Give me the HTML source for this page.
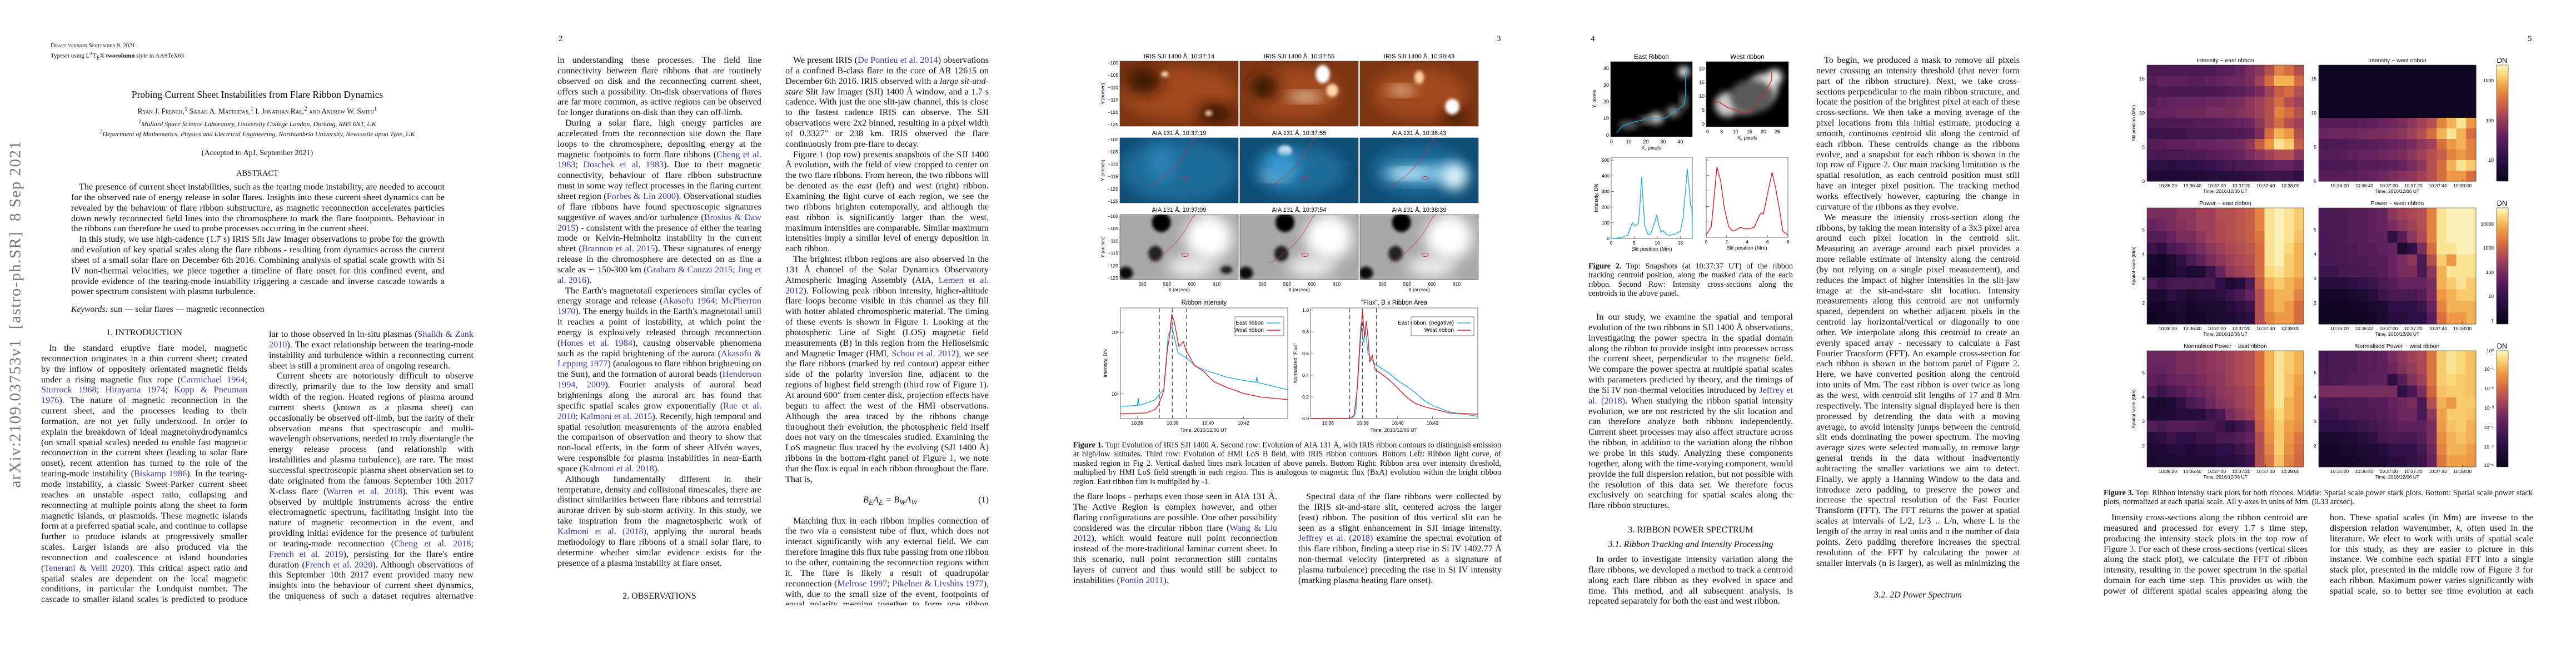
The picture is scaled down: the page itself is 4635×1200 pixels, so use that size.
<!DOCTYPE html>
<html lang="en"><head><meta charset="utf-8">
<style>
html,body{margin:0;padding:0;background:#fff;}
body{width:4635px;height:1200px;position:relative;overflow:hidden;font-family:"Liberation Serif",serif;color:#111;}
.t{position:absolute;font-size:16.2px;line-height:18.85px;text-align:justify;hyphens:auto;-webkit-hyphens:auto;overflow:hidden;}
.t p{margin:0;text-indent:14px;}
.t p.ni{text-indent:0;}
.c{color:#3a3a9a;}
.h{position:absolute;font-size:16px;text-align:center;}
.hdr{position:absolute;font-size:15px;}
.cap{position:absolute;font-size:14.2px;line-height:16.4px;text-align:justify;hyphens:auto;overflow:hidden;}
svg text{font-family:"Liberation Sans",sans-serif;}
</style></head><body>

<div style="position:absolute;left:28px;top:565px;transform:translate(-50%,-50%) rotate(-90deg);font-size:29px;color:#777;white-space:nowrap;letter-spacing:1.5px;">arXiv:2109.03753v1&nbsp;&nbsp;[astro-ph.SR]&nbsp;&nbsp;8 Sep 2021</div>

<!-- PAGE 1 -->
<div style="position:absolute;left:91px;top:76px;font-size:11px;font-variant:small-caps;">Draft version September 9, 2021</div>
<div style="position:absolute;left:91px;top:92px;font-size:11px;">Typeset using L<sup style="font-size:8px">A</sup>T<sub style="font-size:10px">E</sub>X <b>twocolumn</b> style in AASTeX63</div>
<div class="h" style="left:163px;width:600px;top:160px;font-size:17.5px;">Probing Current Sheet Instabilities from Flare Ribbon Dynamics</div>
<div class="h" style="left:63px;width:800px;top:190px;font-size:13.5px;font-variant:small-caps;">Ryan J. French,<sup>1</sup> Sarah A. Matthews,<sup>1</sup> I. Jonathan Rae,<sup>2</sup> and Andrew W. Smith<sup>1</sup></div>
<div class="h" style="left:63px;width:800px;top:214px;font-size:12px;font-style:italic;"><sup>1</sup>Mullard Space Science Laboratory, University College London, Dorking, RH5 6NT, UK</div>
<div class="h" style="left:63px;width:800px;top:232px;font-size:12px;font-style:italic;"><sup>2</sup>Department of Mathematics, Physics and Electrical Engineering, Northumbria University, Newcastle upon Tyne, UK</div>
<div class="h" style="left:263px;width:400px;top:268px;font-size:14px;">(Accepted to ApJ, September 2021)</div>
<div class="h" style="left:363px;width:200px;top:304px;font-size:14.5px;">ABSTRACT</div>
<div class="t" style="left:128px;top:327px;width:672px;height:208px;">
<p>The presence of current sheet instabilities, such as the tearing mode instability, are needed to account for the observed rate of energy release in solar flares. Insights into these current sheet dynamics can be revealed by the behaviour of flare ribbon substructure, as magnetic reconnection accelerates particles down newly reconnected field lines into the chromosphere to mark the flare footpoints. Behaviour in the ribbons can therefore be used to probe processes occurring in the current sheet.</p>
<p>In this study, we use high-cadence (1.7 s) IRIS Slit Jaw Imager observations to probe for the growth and evolution of key spatial scales along the flare ribbons - resulting from dynamics across the current sheet of a small solar flare on December 6th 2016. Combining analysis of spatial scale growth with Si IV non-thermal velocities, we piece together a timeline of flare onset for this confined event, and provide evidence of the tearing-mode instability triggering a cascade and inverse cascade towards a power spectrum consistent with plasma turbulence.</p>
</div>
<div style="position:absolute;left:128px;top:548px;font-size:15.5px;"><i>Keywords:</i> sun — solar flares — magnetic reconnection</div>
<div class="h" style="left:74px;width:371px;top:590px;">1. INTRODUCTION</div>
<div class="t" style="left:74px;top:617px;width:371px;height:472px;">
<p>In the standard eruptive flare model, magnetic reconnection originates in a thin current sheet; created by the inflow of oppositely orientated magnetic fields under a rising magnetic flux rope (<span class="c">Carmichael 1964</span>; <span class="c">Sturrock 1968</span>; <span class="c">Hirayama 1974</span>; <span class="c">Kopp &amp; Pneuman 1976</span>). The nature of magnetic reconnection in the current sheet, and the processes leading to their formation, are not yet fully understood. In order to explain the breakdown of ideal magnetohydrodynamics (on small spatial scales) needed to enable fast magnetic reconnection in the current sheet (leading to solar flare onset), recent attention has turned to the role of the tearing-mode instability (<span class="c">Biskamp 1986</span>). In the tearing-mode instability, a classic Sweet-Parker current sheet reaches an unstable aspect ratio, collapsing and reconnecting at multiple points along the sheet to form magnetic islands, or plasmoids. These magnetic islands form at a preferred spatial scale, and continue to collapse further to produce islands at progressively smaller scales. Larger islands are also produced via the reconnection and coalescence at island boundaries (<span class="c">Tenerani &amp; Velli 2020</span>). This critical aspect ratio and spatial scales are dependent on the local magnetic conditions, in particular the Lundquist number. The cascade to smaller island scales is predicted to produce plasma turbulence, with a power-law simi-</p>
</div>
<div class="t" style="left:484px;top:592px;width:368px;height:491px;">
<p class="ni">lar to those observed in in-situ plasmas (<span class="c">Shaikh &amp; Zank 2010</span>). The exact relationship between the tearing-mode instability and turbulence within a reconnecting current sheet is still a prominent area of ongoing research.</p>
<p>Current sheets are notoriously difficult to observe directly, primarily due to the low density and small width of the region. Heated regions of plasma around current sheets (known as a plasma sheet) can occasionally be observed off-limb, but the rarity of their observation means that spectroscopic and multi-wavelength observations, needed to truly disentangle the energy release process (and relationship with instabilities and plasma turbulence), are rare. The most successful spectroscopic plasma sheet observation set to date originated from the famous September 10th 2017 X-class flare (<span class="c">Warren et al. 2018</span>). This event was observed by multiple instruments across the entire electromagnetic spectrum, facilitating insight into the nature of magnetic reconnection in the event, and providing initial evidence for the presence of turbulent or tearing-mode reconnection (<span class="c">Cheng et al. 2018</span>; <span class="c">French et al. 2019</span>), persisting for the flare's entire duration (<span class="c">French et al. 2020</span>). Although observations of this September 10th 2017 event provided many new insights into the behaviour of current sheet dynamics, the uniqueness of such a dataset requires alternative methods to be employed in order to make further progress</p>
</div>

<!-- PAGE 2 -->
<div class="hdr" style="left:1005px;top:62px;">2</div>
<div class="t" style="left:1003px;top:99px;width:367px;height:924px;">
<p class="ni">in understanding these processes. The field line connectivity between flare ribbons that are routinely observed on disk and the reconnecting current sheet, offers such a possibility. On-disk observations of flares are far more common, as active regions can be observed for longer durations on-disk than they can off-limb.</p>
<p>During a solar flare, high energy particles are accelerated from the reconnection site down the flare loops to the chromosphere, depositing energy at the magnetic footpoints to form flare ribbons (<span class="c">Cheng et al. 1983</span>; <span class="c">Doschek et al. 1983</span>). Due to their magnetic connectivity, behaviour of flare ribbon substructure must in some way reflect processes in the flaring current sheet region (<span class="c">Forbes &amp; Lin 2000</span>). Observational studies of flare ribbons have found spectroscopic signatures suggestive of waves and/or turbulence (<span class="c">Brosius &amp; Daw 2015</span>) - consistent with the presence of either the tearing mode or Kelvin-Helmholtz instability in the current sheet (<span class="c">Brannon et al. 2015</span>). These signatures of energy release in the chromosphere are detected on as fine a scale as ∼ 150-300 km (<span class="c">Graham &amp; Cauzzi 2015</span>; <span class="c">Jing et al. 2016</span>).</p>
<p>The Earth's magnetotail experiences similar cycles of energy storage and release (<span class="c">Akasofu 1964</span>; <span class="c">McPherron 1970</span>). The energy builds in the Earth's magnetotail until it reaches a point of instability, at which point the energy is explosively released through reconnection (<span class="c">Hones et al. 1984</span>), causing observable phenomena such as the rapid brightening of the aurora (<span class="c">Akasofu &amp; Lepping 1977</span>) (analogous to flare ribbon brightening on the Sun), and the formation of auroral beads (<span class="c">Henderson 1994, 2009</span>). Fourier analysis of auroral bead brightenings along the auroral arc has found that specific spatial scales grow exponentially (<span class="c">Rae et al. 2010</span>; <span class="c">Kalmoni et al. 2015</span>). Recently, high temporal and spatial resolution measurements of the aurora enabled the comparison of observation and theory to show that non-local effects, in the form of sheer Alfvén waves, were responsible for plasma instabilities in near-Earth space (<span class="c">Kalmoni et al. 2018</span>).</p>
<p>Although fundamentally different in their temperature, density and collisional timescales, there are distinct similarities between flare ribbons and terrestrial aurorae driven by sub-storm activity. In this study, we take inspiration from the magnetospheric work of <span class="c">Kalmoni et al. (2018)</span>, applying the auroral beads methodology to flare ribbons of a small solar flare, to determine whether similar evidence exists for the presence of a plasma instability at flare onset.</p>
</div>
<div class="h" style="left:1003px;width:367px;top:1064px;">2. OBSERVATIONS</div>
<div class="t" style="left:1413px;top:99px;width:366px;height:990px;">
<p>We present IRIS (<span class="c">De Pontieu et al. 2014</span>) observations of a confined B-class flare in the core of AR 12615 on December 6th 2016. IRIS observed with a <i>large sit-and-stare</i> Slit Jaw Imager (SJI) 1400 Å window, and a 1.7 s cadence. With just the one slit-jaw channel, this is close to the fastest cadence IRIS can observe. The SJI observations were 2x2 binned, resulting in a pixel width of 0.3327″ or 238 km. IRIS observed the flare continuously from pre-flare to decay.</p>
<p>Figure <span class="c">1</span> (top row) presents snapshots of the SJI 1400 Å evolution, with the field of view cropped to center on the two flare ribbons. From hereon, the two ribbons will be denoted as the <i>east</i> (left) and <i>west</i> (right) ribbon. Examining the light curve of each region, we see the two ribbons brighten cotemporally, and although the east ribbon is significantly larger than the west, maximum intensities are comparable. Similar maximum intensities imply a similar level of energy deposition in each ribbon.</p>
<p>The brightest ribbon regions are also observed in the 131 Å channel of the Solar Dynamics Observatory Atmospheric Imaging Assembly (AIA, <span class="c">Lemen et al. 2012</span>). Following peak ribbon intensity, higher-altitude flare loops become visible in this channel as they fill with hotter ablated chromospheric material. The timing of these events is shown in Figure <span class="c">1</span>. Looking at the photospheric Line of Sight (LOS) magnetic field measurements (B) in this region from the Helioseismic and Magnetic Imager (HMI, <span class="c">Schou et al. 2012</span>), we see the flare ribbons (marked by red contour) appear either side of the polarity inversion line, adjacent to the regions of highest field strength (third row of Figure 1). At around 600″ from center disk, projection effects have begun to affect the west of the HMI observations. Although the area traced by the ribbons change throughout their evolution, the photospheric field itself does not vary on the timescales studied. Examining the LoS magnetic flux traced by the evolving (SJI 1400 Å) ribbons in the bottom-right panel of Figure <span class="c">1</span>, we note that the flux is equal in each ribbon throughout the flare. That is,</p>
<div style="height:56px;position:relative;"><span style="position:absolute;left:140px;top:18px;font-style:italic;">B<sub>E</sub>A<sub>E</sub> = B<sub>W</sub>A<sub>W</sub></span><span style="position:absolute;right:0;top:18px;">(1)</span></div>
<p>Matching flux in each ribbon implies connection of the two via a consistent tube of flux, which does not interact significantly with any external field. We can therefore imagine this flux tube passing from one ribbon to the other, containing the reconnection regions within it. The flare is likely a result of quadrupolar reconnection (<span class="c">Melrose 1997</span>; <span class="c">Pikelner &amp; Livshits 1977</span>), with, due to the small size of the event, footpoints of equal polarity merging together to form one ribbon feature either side of the polarity inversion line. We therefore expect the reconnecting current sheet to be somewhere between</p>
</div>

<!-- PAGE 3 -->
<div class="hdr" style="left:2693px;top:62px;">3</div>
<div class="cap" style="left:1931px;top:793px;width:770px;height:84px;"><b>Figure 1.</b> Top: Evolution of IRIS SJI 1400 Å. Second row: Evolution of AIA 131 Å, with IRIS ribbon contours to distinguish emission at high/low altitudes. Third row: Evolution of HMI LoS B field, with IRIS ribbon contours. Bottom Left: Ribbon light curve, of masked region in Fig 2. Vertical dashed lines mark location of above panels. Bottom Right: Ribbon area over intensity threshold, multiplied by HMI LoS field strength in each region. This is analogous to magnetic flux (BxA) evolution within the bright ribbon region. East ribbon flux is multiplied by -1.</div>
<div class="t" style="left:1931px;top:884px;width:367px;height:170px;">
<p class="ni">the flare loops - perhaps even those seen in AIA 131 Å. The Active Region is complex however, and other flaring configurations are possible. One other possibility considered was the circular ribbon flare (<span class="c">Wang &amp; Liu 2012</span>), which would feature null point reconnection instead of the more-traditional laminar current sheet. In this scenario, null point reconnection still contains layers of current and thus would still be subject to instabilities (<span class="c">Pontin 2011</span>).</p>
</div>
<div class="t" style="left:2336px;top:884px;width:366px;height:170px;">
<p>Spectral data of the flare ribbons were collected by the IRIS sit-and-stare slit, centered across the larger (east) ribbon. The position of this vertical slit can be seen as a slight enhancement in SJI image intensity. <span class="c">Jeffrey et al. (2018)</span> examine the spectral evolution of this flare ribbon, finding a steep rise in Si IV 1402.77 Å non-thermal velocity (interpreted as a signature of plasma turbulence) preceding the rise in Si IV intensity (marking plasma heating flare onset).</p>
</div>

<!-- PAGE 4 -->
<div class="hdr" style="left:2862px;top:62px;">4</div>
<div class="cap" style="left:2858px;top:471px;width:368px;height:68px;"><b>Figure 2.</b> Top: Snapshots (at 10:37:37 UT) of the ribbon tracking centroid position, along the masked data of the each ribbon. Second Row: Intensity cross-sections along the centroids in the above panel.</div>
<div class="t" style="left:2858px;top:561px;width:368px;height:359px;">
<p>In our study, we examine the spatial and temporal evolution of the two ribbons in SJI 1400 Å observations, investigating the power spectra in the spatial domain along the ribbon to provide insight into processes across the current sheet, perpendicular to the magnetic field. We compare the power spectra at multiple spatial scales with parameters predicted by theory, and the timings of the Si IV non-thermal velocities introduced by <span class="c">Jeffrey et al. (2018)</span>. When studying the ribbon spatial intensity evolution, we are not restricted by the slit location and can therefore analyze both ribbons independently. Current sheet processes may also affect structure across the ribbon, in addition to the variation along the ribbon we probe in this study. Analyzing these components together, along with the time-varying component, would provide the full dispersion relation, but not possible with the resolution of this data set. We therefore focus exclusively on searching for spatial scales along the flare ribbon structures.</p>
</div>
<div class="h" style="left:2858px;width:368px;top:945px;">3. RIBBON POWER SPECTRUM</div>
<div class="h" style="left:2858px;width:368px;top:971px;font-style:italic;">3.1. Ribbon Tracking and Intensity Processing</div>
<div class="t" style="left:2858px;top:997px;width:368px;height:95px;">
<p>In order to investigate intensity variation along the flare ribbons, we developed a method to track a centroid along each flare ribbon as they evolved in space and time. This method, and all subsequent analysis, is repeated separately for both the east and west ribbon.</p>
</div>
<div class="t" style="left:3268px;top:99px;width:366px;height:924px;">
<p>To begin, we produced a mask to remove all pixels never crossing an intensity threshold (that never form part of the ribbon structure). Next, we take cross-sections perpendicular to the main ribbon structure, and locate the position of the brightest pixel at each of these cross-sections. We then take a moving average of the pixel locations from this initial estimate, producing a smooth, continuous centroid slit along the centroid of each ribbon. These centroids change as the ribbons evolve, and a snapshot for each ribbon is shown in the top row of Figure <span class="c">2</span>. Our main tracking limitation is the spatial resolution, as each centroid position must still have an integer pixel position. The tracking method works effectively however, capturing the change in curvature of the ribbons as they evolve.</p>
<p>We measure the intensity cross-section along the ribbons, by taking the mean intensity of a 3x3 pixel area around each pixel location in the centroid slit. Measuring an average around each pixel provides a more reliable estimate of intensity along the centroid (by not relying on a single pixel measurement), and reduces the impact of higher intensities in the slit-jaw image at the sit-and-stare slit location. Intensity measurements along this centroid are not uniformly spaced, dependent on whether adjacent pixels in the centroid lay horizontal/vertical or diagonally to one other. We interpolate along this centroid to create an evenly spaced array - necessary to calculate a Fast Fourier Transform (FFT). An example cross-section for each ribbon is shown in the bottom panel of Figure <span class="c">2</span>. Here, we have converted position along the centroid into units of Mm. The east ribbon is over twice as long as the west, with centroid slit lengths of 17 and 8 Mm respectively. The intensity signal displayed here is then processed by detrending the data with a moving average, to avoid intensity jumps between the centroid slit ends dominating the power spectrum. The moving average sizes were selected manually, to remove large general trends in the data without inadvertently subtracting the smaller variations we aim to detect. Finally, we apply a Hanning Window to the data and introduce zero padding, to preserve the power and increase the spectral resolution of the Fast Fourier Transform (FFT). The FFT returns the power at spatial scales at intervals of L/2, L/3 .. L/n, where L is the length of the array in real units and n the number of data points. Zero padding therefore increases the spectral resolution of the FFT by calculating the power at smaller intervals (n is larger), as well as minimizing the effects of aliasing.</p>
</div>
<div class="h" style="left:3268px;width:366px;top:1062px;font-style:italic;">3.2. 2D Power Spectrum</div>

<!-- PAGE 5 -->
<div class="hdr" style="left:4548px;top:62px;">5</div>
<div class="cap" style="left:3785px;top:879px;width:772px;height:34px;"><b>Figure 3.</b> Top: Ribbon intensity stack plots for both ribbons. Middle: Spatial scale power stack plots. Bottom: Spatial scale power stack plots, normalized at each spatial scale. All y-axes in units of Mm. (0.33 arcsec).</div>
<div class="t" style="left:3785px;top:922px;width:367px;height:152px;">
<p>Intensity cross-sections along the ribbon centroid are measured and processed for every 1.7 s time step, producing the intensity stack plots in the top row of Figure <span class="c">3</span>. For each of these cross-sections (vertical slices along the stack plot), we calculate the FFT of ribbon intensity, resulting in the power spectrum in the spatial domain for each time step. This provides us with the power of different spatial scales appearing along the flare rib-</p>
</div>
<div class="t" style="left:4192px;top:922px;width:366px;height:152px;">
<p class="ni">bon. These spatial scales (in Mm) are inverse to the dispersion relation wavenumber, <i>k</i>, often used in the literature. We elect to work with units of spatial scale for this study, as they are easier to picture in this instance. We combine each spatial FFT into a single stack plot, presented in the middle row of Figure <span class="c">3</span> for each ribbon. Maximum power varies significantly with spatial scale, so to better see time evolution at each spatial scale we</p>
</div>

<!-- FIGURES -->
<svg id="figs" width="4635" height="1200" style="position:absolute;left:0;top:0;" xmlns="http://www.w3.org/2000/svg">
<defs>
<filter id="b6" x="-50%" y="-50%" width="200%" height="200%"><feGaussianBlur stdDeviation="6"/></filter>
<filter id="b3" x="-50%" y="-50%" width="200%" height="200%"><feGaussianBlur stdDeviation="3"/></filter>
<filter id="b12" x="-50%" y="-50%" width="200%" height="200%"><feGaussianBlur stdDeviation="12"/></filter>
<linearGradient id="inferno" x1="0" y1="1" x2="0" y2="0">
<stop offset="0" stop-color="#0c061e"/><stop offset="0.2" stop-color="#2d0f46"/><stop offset="0.4" stop-color="#64235f"/><stop offset="0.55" stop-color="#a0415a"/><stop offset="0.7" stop-color="#d76e41"/><stop offset="0.82" stop-color="#f0a046"/><stop offset="0.92" stop-color="#fad778"/><stop offset="1" stop-color="#fcf8c8"/>
</linearGradient>
</defs>
<g id="fig1"></g><g id="fig2"></g><g id="fig3"></g>
</svg>

<script>
// ---------- DATA: Figure 1 ribbon intensity (minutes after 10:00, DN) ----------
const f1EastT = [35.05,36.0,36.05,36.1,37.0,37.3,37.5,37.75,37.95,38.1,38.3,38.8,39.3,40.0,41.0,42.0,42.7,42.75,42.8,43.0,44.5];
const f1EastV = [6300,6500,8600,6500,8000,10200,12000,89000,127000,84000,47000,38000,28000,23400,19000,16600,15500,19000,15400,14900,11700];
const f1WestT = [35.05,36.5,37.0,37.2,37.5,37.7,37.85,37.95,38.1,38.35,38.6,38.75,39.2,39.8,40.3,41.0,42.0,43.0,44.5];
const f1WestV = [4775,4900,5600,6600,11300,52000,97000,200000,146000,59000,71000,52000,30000,22600,16000,13000,10200,8900,8100];
const f1Dashed = [37.25,37.98,38.78];
const f1LogTicks = [4,5];
const f1TimeTicks = [36,38,40,42];
const f1TimeLabels = ["10:36","10:38","10:40","10:42"];
// Figure 1 flux (normalized)
const f1FluxEastT = [35.0,37.4,37.6,37.75,37.9,38.05,38.15,38.3,38.5,38.7,39.0,39.5,40.0,40.5,41.0,41.5,42.0,43.0,44.6];
const f1FluxEastV = [0,0,0.05,0.5,0.88,0.7,0.82,0.6,0.55,0.5,0.47,0.42,0.35,0.3,0.24,0.17,0.12,0.06,0.02];
const f1FluxWestT = [35.0,37.0,37.3,37.5,37.7,37.8,37.9,37.98,38.1,38.2,38.3,38.4,38.55,38.7,39.0,39.5,40.0,40.5,41.0,41.5,42.0,43.0,44.6];
const f1FluxWestV = [0,0,0.005,0.03,0.3,0.58,0.8,1.0,0.75,0.9,0.75,0.52,0.58,0.45,0.42,0.36,0.28,0.2,0.14,0.11,0.09,0.05,0.04];
const f1FluxTicks = [0,0.2,0.4,0.6,0.8,1.0];

// ---------- DATA: Figure 2 ----------
const f2EastPos = [0,1,2,3,3.6,4.2,4.6,5.2,5.9,6.2,6.6,6.9,7.3,8,8.6,9.5,9.9,10.3,10.8,11.3,12,12.6,13.5,14.2,15,15.6,16.1,16.5,16.9,17.2,17.5,17.6];
const f2EastInt = [0,2,5,15,20,70,100,78,95,200,390,250,80,25,30,110,150,90,40,50,25,20,25,35,45,130,300,445,330,210,200,0];
const f2WestPos = [0,0.5,1.05,1.4,1.8,2.2,2.6,3,3.3,3.8,4.2,4.7,5.2,5.4,5.6,6.0,6.45,6.8,7.2,7.5,8];
const f2WestInt = [15,70,455,370,180,70,40,50,65,55,55,65,140,160,150,280,420,320,170,40,15];
const f2EastCentX = [3,6,10,18,20,31,33,38,42,43,43,44];
const f2EastCentY = [1.5,5,7,9,10,10,11,15,18,23,36,41];
const f2WestCentX = [2,4,7,10,13,16,18,20,22,23,23];
const f2WestCentY = [8,8,6,5,4,5,8,11,14,16,19];

// ---------- DATA: Figure 3 stack plots (normalized log colour 0..1, rows top->bottom) ----------
const intensityEast = [
[.3,.3,.3,.3,.3,.32,.32,.34,.36,.4,.45,.5,.6,.75,.7,.6],
[.35,.38,.38,.38,.36,.36,.38,.4,.42,.42,.45,.55,.7,.85,.85,.7],
[.3,.32,.3,.3,.3,.3,.3,.32,.34,.36,.4,.45,.55,.65,.7,.6],
[.35,.38,.4,.4,.4,.4,.42,.42,.44,.45,.5,.55,.6,.7,.6,.55],
[.38,.4,.4,.42,.42,.42,.45,.45,.45,.48,.5,.55,.6,.75,.7,.6],
[.3,.3,.32,.32,.32,.34,.34,.36,.38,.4,.42,.5,.6,.7,.6,.55],
[.25,.25,.25,.25,.28,.28,.28,.3,.3,.32,.35,.45,.7,.85,.8,.6],
[.35,.35,.38,.38,.38,.4,.4,.42,.42,.44,.5,.65,.8,.95,.9,.65],
[.3,.3,.3,.3,.32,.32,.34,.36,.38,.4,.45,.5,.55,.6,.6,.5],
[.2,.2,.18,.2,.2,.22,.24,.26,.28,.3,.32,.35,.38,.4,.4,.35],
[.12,.12,.1,.12,.12,.14,.15,.15,.16,.18,.2,.22,.25,.25,.25,.2]];
const intensityWest = [
[.01,.01,.01,.01,.01,.01,.01,.01,.01,.01,.01,.01,.01,.01,.01,.01],
[.01,.01,.01,.01,.01,.01,.01,.01,.01,.01,.01,.01,.01,.01,.01,.01],
[.01,.01,.01,.01,.01,.01,.01,.01,.01,.01,.01,.01,.01,.01,.01,.01],
[.01,.01,.01,.01,.01,.01,.01,.01,.01,.01,.01,.01,.01,.01,.01,.01],
[.01,.01,.01,.01,.01,.01,.01,.01,.01,.01,.01,.01,.01,.01,.01,.01],
[.35,.35,.35,.35,.36,.38,.4,.42,.45,.5,.55,.6,.75,.85,.95,.8],
[.4,.42,.42,.42,.44,.45,.45,.48,.5,.55,.6,.7,.85,.95,.85,.7],
[.3,.32,.32,.34,.34,.36,.38,.4,.42,.45,.5,.55,.7,.8,.85,.75],
[.35,.35,.36,.38,.4,.4,.42,.44,.46,.5,.55,.6,.65,.75,.8,.75],
[.3,.3,.3,.32,.34,.35,.36,.38,.4,.45,.5,.6,.7,.85,.95,.9],
[.35,.35,.35,.36,.38,.4,.42,.45,.48,.5,.55,.6,.7,.8,.8,.7]];
const powerEast = [
[.45,.45,.45,.5,.5,.55,.55,.6,.6,.62,.65,.75,.95,.98,.95,.9],
[.4,.42,.45,.48,.5,.55,.55,.58,.6,.62,.65,.75,.95,.98,.95,.9],
[.35,.35,.4,.45,.45,.5,.55,.58,.6,.62,.65,.72,.95,.98,.95,.88],
[.25,.2,.3,.35,.4,.45,.5,.55,.58,.6,.62,.7,.95,.98,.92,.85],
[.08,.05,.1,.2,.3,.38,.45,.5,.55,.58,.6,.7,.95,.98,.9,.85],
[.05,.05,.08,.15,.1,.1,.25,.4,.5,.55,.58,.7,.92,.95,.9,.85],
[.3,.25,.3,.3,.3,.3,.3,.2,.1,.15,.3,.65,.85,.9,.85,.8],
[.1,.1,.2,.15,.1,.15,.15,.2,.25,.3,.4,.6,.8,.85,.85,.75],
[.05,.05,.08,.1,.05,.08,.1,.1,.15,.2,.25,.6,.8,.85,.8,.7],
[.02,.05,.05,.08,.05,.05,.08,.1,.1,.15,.2,.6,.75,.8,.8,.7]];
const powerWest = [
[.3,.32,.32,.35,.35,.38,.4,.5,.55,.58,.6,.75,.95,.98,.98,.98],
[.3,.32,.32,.35,.35,.38,.4,.45,.5,.55,.6,.75,.95,.98,.98,.98],
[.3,.3,.32,.35,.35,.38,.38,.2,.35,.5,.58,.75,.95,.98,.98,.98],
[.3,.3,.3,.32,.35,.35,.38,.4,.1,.2,.45,.7,.95,.95,.98,.98],
[.3,.3,.3,.32,.32,.35,.35,.4,.45,.5,.3,.6,.9,.8,.95,.95],
[.25,.25,.28,.3,.3,.32,.35,.4,.45,.45,.3,.5,.85,.95,.95,.95],
[.15,.15,.15,.2,.22,.25,.3,.35,.4,.4,.4,.45,.85,.9,.95,.9],
[.05,.05,.05,.08,.1,.15,.25,.3,.3,.3,.35,.45,.8,.85,.9,.9],
[.02,.02,.03,.05,.05,.08,.1,.2,.2,.2,.25,.4,.75,.85,.85,.85],
[.02,.02,.02,.03,.03,.05,.08,.15,.15,.2,.2,.35,.7,.8,.8,.85]];
const normEast = [
[.42,.42,.42,.45,.45,.48,.5,.52,.55,.58,.6,.7,.85,.95,.9,.85],
[.4,.4,.42,.45,.45,.48,.5,.52,.55,.58,.6,.7,.85,.95,.9,.85],
[.38,.35,.4,.42,.42,.45,.48,.5,.55,.58,.6,.7,.85,.95,.88,.82],
[.3,.25,.3,.35,.4,.42,.45,.5,.52,.55,.58,.68,.85,.95,.88,.8],
[.1,.08,.12,.2,.3,.35,.42,.48,.5,.55,.58,.68,.85,.95,.85,.8],
[.08,.1,.12,.15,.15,.15,.25,.3,.45,.5,.55,.68,.82,.92,.85,.8],
[.35,.3,.35,.35,.35,.32,.3,.25,.2,.25,.35,.65,.8,.9,.82,.78],
[.15,.2,.25,.2,.2,.25,.25,.3,.3,.35,.4,.6,.78,.9,.8,.72],
[.1,.12,.15,.15,.12,.15,.18,.2,.2,.25,.3,.6,.75,.9,.78,.7],
[.08,.1,.1,.12,.1,.12,.12,.15,.15,.2,.25,.6,.72,.88,.75,.68]];
const normWest = [
[.28,.3,.3,.32,.34,.36,.38,.45,.5,.55,.58,.72,.9,.95,.92,.88],
[.28,.3,.3,.32,.34,.36,.38,.42,.48,.52,.58,.72,.9,.95,.92,.88],
[.3,.3,.32,.34,.35,.38,.38,.2,.35,.48,.55,.72,.9,.92,.9,.88],
[.45,.45,.45,.45,.45,.45,.45,.45,.2,.3,.45,.68,.88,.9,.9,.88],
[.3,.3,.3,.32,.32,.35,.35,.4,.42,.45,.3,.6,.85,.8,.9,.9],
[.25,.25,.28,.3,.3,.32,.35,.38,.42,.42,.3,.5,.82,.9,.9,.88],
[.2,.2,.2,.22,.25,.28,.3,.35,.38,.38,.38,.45,.8,.88,.9,.85],
[.08,.08,.1,.12,.15,.2,.28,.3,.3,.3,.35,.45,.78,.85,.88,.85],
[.05,.05,.06,.08,.1,.12,.15,.22,.22,.22,.28,.42,.75,.85,.85,.82],
[.05,.05,.05,.06,.08,.1,.12,.18,.18,.22,.25,.4,.72,.82,.82,.8]];
const stackTimeTicks = [20,40,60,80,100,120];
const stackTimeLabels = ["10:36:20","10:36:40","10:37:00","10:37:20","10:37:40","10:38:00"];
const intensityTicks = [0,5,10,15];
const scaleTicks = [2,3,4,5];
const cbar1Labels = ["1000","100","10"];
const cbar2Labels = ["10000","1000","100","10","1"];
const cbar3Labels = ["10\u2070","10\u207B\u00B9","10\u207B\u00B2","10\u207B\u00B3","10\u207B\u2074","10\u207B\u2075","10\u207B\u2076"];

// ---------- helpers ----------
const NS = "http://www.w3.org/2000/svg";
function mk(parent, tag, attrs, txt){
  const e = document.createElementNS(NS, tag);
  for (const k in attrs) e.setAttribute(k, attrs[k]);
  if (txt !== undefined) e.textContent = txt;
  parent.appendChild(e);
  return e;
}
function lin(d0,d1,r0,r1){ return v => r0 + (v-d0)/(d1-d0)*(r1-r0); }
const cmStops = [[0,[12,6,30]],[0.2,[45,15,70]],[0.4,[100,35,95]],[0.55,[160,65,90]],[0.7,[215,110,65]],[0.82,[240,160,70]],[0.92,[250,215,120]],[1,[252,248,200]]];
function cmap(v){
  v = Math.max(0, Math.min(1, v));
  for (let i=1;i<cmStops.length;i++){
    if (v <= cmStops[i][0]){
      const a = cmStops[i-1], b = cmStops[i];
      const f = (v-a[0])/(b[0]-a[0]);
      const c = a[1].map((x,j)=>Math.round(x+(b[1][j]-x)*f));
      return `rgb(${c[0]},${c[1]},${c[2]})`;
    }
  }
  return "rgb(252,248,200)";
}

// ---------- Figure 1 ----------
const g1 = document.getElementById("fig1");
const pCols = [2015, 2231, 2447], pRows = [110, 248, 386], pW = 213, pH = 117;
const pTitles = [["IRIS SJI 1400 Å, 10:37:14","IRIS SJI 1400 Å, 10:37:55","IRIS SJI 1400 Å, 10:38:43"],
                 ["AIA 131 Å, 10:37:19","AIA 131 Å, 10:37:55","AIA 131 Å, 10:38:43"],
                 ["AIA 131 Å, 10:37:09","AIA 131 Å, 10:37:54","AIA 131 Å, 10:38:39"]];
const pBase = ["#7c3512","#0f4d74","#a8a8a8"];
const blobs = [
 [[[0.5,0.5,0.5,0.4,"#a04a1c"],[0.2,0.3,0.15,0.2,"#3a1505"],[0.8,0.8,0.15,0.15,"#3a1505"],[0.38,0.2,0.03,0.04,"#ffe8c8"],[0.75,0.8,0.03,0.04,"#ffd0a0"]],
  [[0.45,0.5,0.4,0.4,"#a04a1c"],[0.2,0.4,0.12,0.2,"#3a1505"],[0.7,0.2,0.06,0.14,"#ffffff"],[0.55,0.55,0.15,0.06,"#fff4e0"],[0.78,0.45,0.05,0.1,"#ffd8b0"]],
  [[0.5,0.5,0.4,0.4,"#a04a1c"],[0.8,0.85,0.1,0.1,"#3a1505"],[0.35,0.45,0.12,0.06,"#ffe0c0"],[0.5,0.25,0.04,0.1,"#ffd0a0"],[0.78,0.7,0.06,0.12,"#ffffff"]]],
 [[[0.5,0.5,0.5,0.5,"#1a6a98"],[0.35,0.4,0.12,0.3,"#2a80b0"]],
  [[0.5,0.5,0.4,0.4,"#1a6a98"],[0.38,0.2,0.06,0.08,"#ffffff"],[0.3,0.58,0.1,0.06,"#ffffff"],[0.35,0.45,0.15,0.25,"#3a9ad0"]],
  [[0.5,0.5,0.4,0.4,"#1a6a98"],[0.55,0.55,0.35,0.12,"#8cd0f0"],[0.8,0.6,0.1,0.2,"#e8f8ff"],[0.4,0.55,0.15,0.06,"#d8f0ff"]]],
 [[[0.35,0.12,0.08,0.15,"#000000"],[0.75,0.35,0.2,0.35,"#ffffff"],[0.6,0.8,0.2,0.15,"#f0f0f0"],[0.3,0.6,0.06,0.12,"#222222"],[0.05,0.9,0.06,0.1,"#111111"],[0.9,0.85,0.05,0.06,"#202020"]],
  [[0.38,0.12,0.08,0.15,"#000000"],[0.75,0.35,0.2,0.35,"#ffffff"],[0.6,0.8,0.2,0.15,"#f0f0f0"],[0.35,0.6,0.06,0.12,"#222222"],[0.05,0.9,0.06,0.1,"#111111"]],
  [[0.35,0.12,0.08,0.15,"#000000"],[0.75,0.35,0.2,0.35,"#ffffff"],[0.6,0.8,0.2,0.15,"#f0f0f0"],[0.3,0.6,0.06,0.12,"#222222"],[0.05,0.9,0.06,0.1,"#111111"]]]
];
for (let r=0;r<3;r++){
  for (let c=0;c<3;c++){
    const x0=pCols[c], y0=pRows[r];
    const cid = `clip1_${r}_${c}`;
    const cp = mk(g1.ownerSVGElement.querySelector("defs"),"clipPath",{id:cid});
    mk(cp,"rect",{x:x0,y:y0,width:pW,height:pH});
    const pg = mk(g1,"g",{"clip-path":`url(#${cid})`});
    
    
    mk(pg,"rect",{x:x0,y:y0,width:pW,height:pH,fill:pBase[r]});
    for (const b of blobs[r][c]){
      mk(pg,"ellipse",{cx:x0+b[0]*pW,cy:y0+b[1]*pH,rx:b[2]*pW,ry:b[3]*pH,fill:b[4],filter: (b[2]<0.1?"url(#b3)":"url(#b12)")});
    }
    if (r>0){
      mk(pg,"path",{d:`M${x0+pW*0.25} ${y0+pH*0.75} q20 -10 40 -30 t30 -40 t20 -20`,fill:"none",stroke:"#d03030","stroke-width":0.8});
      mk(pg,"ellipse",{cx:x0+pW*0.55,cy:y0+pH*0.62,rx:6,ry:3,fill:"none",stroke:"#d03030","stroke-width":0.8});
    }
    const tt = mk(g1,"text",{x:x0+pW/2,y:y0-5,"font-size":11,"text-anchor":"middle"},pTitles[r][c]);
    
    
    mk(g1,"rect",{x:x0,y:y0,width:pW,height:pH,fill:"none",stroke:"#333","stroke-width":0.6});
  }
  const ys = lin(-100,-125,pRows[r]+3,pRows[r]+pH-3);
  for (let v=-100; v>=-125; v-=5){
    mk(g1,"text",{x:pCols[0]-3,y:ys(v)+3,"font-size":8.5,"text-anchor":"end"},"\u2212"+(-v));
  }
  const yl = mk(g1,"text",{x:1987,y:pRows[r]+pH/2,"font-size":8.5,"text-anchor":"middle",transform:`rotate(-90 1987 ${pRows[r]+pH/2})`},"Y (arcsec)");
  
  
}
const arcTicks = [580,590,600,610];
for (let c=0;c<3;c++){
  const xs = lin(580,610,pCols[c]+40.5,pCols[c]+174);
  for (const v of arcTicks) mk(g1,"text",{x:xs(v),y:pRows[2]+pH+11,"font-size":8.5,"text-anchor":"middle"},String(v));
  const xl = mk(g1,"text",{x:pCols[c]+pW/2,y:pRows[2]+pH+21,"font-size":8.5,"text-anchor":"middle"},"X (arcsec)");
  
  
}

function linePlot(g, box, xd, yd, ylog, series, dashed, title, xTicks, xLabels, yTicks, yLabels, ytitle, legend, nameBase){
  const [bx,by,bw,bh] = box;
  const X = lin(xd[0],xd[1],bx,bx+bw);
  const Y = ylog ? (v => lin(yd[0],yd[1],by+bh,by)(Math.log10(v))) : lin(yd[0],yd[1],by+bh,by);
  const frame = mk(g,"rect",{x:bx,y:by,width:bw,height:bh,fill:"#fff",stroke:"#444","stroke-width":0.8});
  
  
  if (title){
    const t = mk(g,"text",{x:bx+bw/2,y:by-6,"font-size":11.5,"text-anchor":"middle"},title);
    
    
  }
  for (let i=0;i<xTicks.length;i++){
    mk(g,"line",{x1:X(xTicks[i]),x2:X(xTicks[i]),y1:by+bh,y2:by+bh-4,stroke:"#444","stroke-width":0.7});
    mk(g,"text",{x:X(xTicks[i]),y:by+bh+11,"font-size":8.5,"text-anchor":"middle"},xLabels[i]);
  }
  for (let i=0;i<yTicks.length;i++){
    const yy = ylog ? lin(yd[0],yd[1],by+bh,by)(yTicks[i]) : Y(yTicks[i]);
    mk(g,"line",{x1:bx,x2:bx+5,y1:yy,y2:yy,stroke:"#444","stroke-width":0.7});
    if (yLabels) mk(g,"text",{x:bx-3,y:yy+3,"font-size":8.5,"text-anchor":"end"},yLabels[i]);
  }
  if (ytitle){
    const cy = by+bh/2, cx = bx-(yLabels?24:8);
    const yt = mk(g,"text",{x:cx,y:cy,"font-size":9,"text-anchor":"middle",transform:`rotate(-90 ${cx} ${cy})`},ytitle);
    
    
  }
  for (const d of dashed){
    const dl = mk(g,"line",{x1:X(d),x2:X(d),y1:by+1,y2:by+bh-1,stroke:"#444","stroke-width":1.2,"stroke-dasharray":"7,5"});
    
    
  }
  for (const s of series){
    const pts = s.x.map((xv,i)=>`${X(xv).toFixed(1)},${Y(s.y[i]).toFixed(1)}`).join(" ");
    const pl = mk(g,"polyline",{points:pts,fill:"none",stroke:s.color,"stroke-width":1.4});
    
    
  }
  if (legend){
    const [lx,ly,lw] = legend.box;
    const lg = mk(g,"rect",{x:lx,y:ly,width:lw,height:34,fill:"#fff",stroke:"#444","stroke-width":0.7});
    
    
    legend.items.forEach((it,i)=>{
      mk(g,"text",{x:lx+lw-36,y:ly+14+i*13,"font-size":10,"text-anchor":"end"},it[0]);
      mk(g,"line",{x1:lx+lw-30,x2:lx+lw-6,y1:ly+11+i*13,y2:ly+11+i*13,stroke:it[1],"stroke-width":1.6});
    });
  }
  return {X,Y};
}
linePlot(g1,[2016,554,301,199],[35.05,44.5],[3.6,5.4],true,
  [{x:f1EastT,y:f1EastV,color:"#1ea8e0",name:"east-ribbon-intensity-line"},{x:f1WestT,y:f1WestV,color:"#d81e1e",name:"west-ribbon-intensity-line"}],
  f1Dashed,"Ribbon intensity",f1TimeTicks,f1TimeLabels,f1LogTicks,["10\u2074","10\u2075"],"Intensity, DN",
  {box:[2222,570,88,34],items:[["East ribbon","#1ea8e0"],["West ribbon","#d81e1e"]]},"ribbon-intensity");
linePlot(g1,[2358,554,301,199],[35.0,44.6],[0,1.02],false,
  [{x:f1FluxEastT,y:f1FluxEastV,color:"#1ea8e0",name:"east-ribbon-flux-line"},{x:f1FluxWestT,y:f1FluxWestV,color:"#d81e1e",name:"west-ribbon-flux-line"}],
  f1Dashed,"\"Flux\", B x Ribbon Area",f1TimeTicks,f1TimeLabels,f1FluxTicks,f1FluxTicks.map(v=>v.toFixed(1)),"Normalized \"Flux\"",
  {box:[2539,570,113,34],items:[["East ribbon, (negative)","#1ea8e0"],["West ribbon","#d81e1e"]]},"ribbon-flux");
for (const cx of [2166,2508]){
  mk(g1,"text",{x:cx,y:777,"font-size":9,"text-anchor":"middle"},"Time, 2016/12/06 UT");
}

// ---------- Figure 2 ----------
const g2 = document.getElementById("fig2");
function ribbonImage(box, xd, yd, cx, cy, color, blobsArr, title, name){
  const [bx,by,bw,bh] = box;
  const X = lin(xd[0],xd[1],bx,bx+bw), Y = lin(yd[0],yd[1],by+bh,by);
  const cid = "clip_"+name;
  const cp = mk(document.querySelector("#figs defs"),"clipPath",{id:cid});
  mk(cp,"rect",{x:bx,y:by,width:bw,height:bh});
  const g = mk(g2,"g",{"clip-path":`url(#${cid})`});
  
  
  mk(g,"rect",{x:bx,y:by,width:bw,height:bh,fill:"#000"});
  for (const b of blobsArr){
    mk(g,"ellipse",{cx:X(b[0]),cy:Y(b[1]),rx:b[2],ry:b[3],fill:b[4],filter:"url(#b6)"});
  }
  const pts = cx.map((v,i)=>`${X(v).toFixed(1)},${Y(cy[i]).toFixed(1)}`).join(" ");
  const pl = mk(g,"polyline",{points:pts,fill:"none",stroke:color,"stroke-width":1.3});
  
  
  mk(g2,"rect",{x:bx,y:by,width:bw,height:bh,fill:"none",stroke:"#444","stroke-width":0.7});
  const t = mk(g2,"text",{x:bx+bw/2,y:by-5,"font-size":11.5,"text-anchor":"middle"},title);
  
  
  return {X,Y};
}
const eastImg = ribbonImage([2898,111,147,135],[-0.5,47],[-1,44],f2EastCentX,f2EastCentY,"#1ea8e0",
  [[10,6,18,7,"#6a6a6a"],[26,10,14,10,"#c8c8c8"],[36,14,12,9,"#9a9a9a"],[42,20,6,16,"#7a7a7a"],[42,38,10,10,"#e8e8e8"],[20,9,12,6,"#8a8a8a"]],"East Ribbon","east-ribbon-image");
const westImg = ribbonImage([3070,111,148,117],[-0.5,29],[-1,22.5],f2WestCentX,f2WestCentY,"#d81e1e",
  [[7,7,22,22,"#cfcfcf"],[13,6,20,12,"#8a8a8a"],[20,13,26,26,"#d8d8d8"],[16,10,40,30,"#5a5a5a"],[24,17,14,14,"#f0f0f0"]],"West ribbon","west-ribbon-image");
[[0,10,20,30,40],[0,5,10,15,20,25]].forEach((ticks,i)=>{
  const im = i===0?eastImg:westImg;
  const by = i===0?246:228;
  ticks.forEach(v=>mk(g2,"text",{x:im.X(v),y:by+12,"font-size":9,"text-anchor":"middle"},String(v)));
  const yt = i===0?[0,10,20,30,40]:[0,5,10,15,20];
  yt.forEach(v=>mk(g2,"text",{x:(i===0?2895:3067),y:im.Y(v)+3,"font-size":9,"text-anchor":"end"},String(v)));
  mk(g2,"text",{x:(i===0?2971:3144),y:by+23,"font-size":9.5,"text-anchor":"middle"},"X, pixels");
});
mk(g2,"text",{x:2872,y:178,"font-size":9,"text-anchor":"middle",transform:"rotate(-90 2872 178)"},"Y, pixels");
linePlot(g2,[2899,283,146,146],[0,17.6],[0,518],false,
  [{x:f2EastPos,y:f2EastInt,color:"#1ea8e0",name:"east-cross-section-line"}],[],null,[0,5,10,15],["0","5","10","15"],[0,100,200,300,400,500],["0","100","200","300","400","500"],"Intensity, DN",null,"east-cross-section");
linePlot(g2,[3070,283,147,144],[0,8],[0,518],false,
  [{x:f2WestPos,y:f2WestInt,color:"#d81e1e",name:"west-cross-section-line"}],[],null,[0,2,4,6,8],["0","2","4","6","8"],[0,100,200,300,400,500],null,null,null,"west-cross-section");
mk(g2,"text",{x:2972,y:451,"font-size":9.5,"text-anchor":"middle"},"Slit position (Mm)");
mk(g2,"text",{x:3143,y:449,"font-size":9.5,"text-anchor":"middle"},"Slit position (Mm)");

// ---------- Figure 3 ----------
const g3 = document.getElementById("fig3");
const hmCols = [3863, 4172], hmW = [282, 283];
const hmRows = [[117,326],[374,583],[631,840]];
const hmTitles = [["Intensity \u2212 east ribbon","Intensity \u2212 west ribbon"],["Power \u2212 east ribbon","Power \u2212 west ribbon"],["Normalised Power \u2212 east ribbon","Normalised Power \u2212 west ribbon"]];
const hmData = [[intensityEast,intensityWest],[powerEast,powerWest],[normEast,normWest]];
const hmYDom = [[0,17],[1.13,5.9],[1.13,5.9]];
const hmYTicks = [intensityTicks, scaleTicks, scaleTicks];
const hmYTitle = ["Slit position (Mm)","Spatial scale (Mm)","Spatial scale (Mm)"];
for (let r=0;r<3;r++){
  for (let c=0;c<2;c++){
    const x0 = hmCols[c], w = hmW[c], y0 = hmRows[r][0], h = hmRows[r][1]-hmRows[r][0];
    const grid = hmData[r][c];
    const nr = grid.length, nc = grid[0].length;
    const cg = mk(g3,"g",{});
    
    
    for (let i=0;i<nr;i++){
      for (let j=0;j<nc;j++){
        const cell = mk(cg,"rect",{x:(x0+j*w/nc).toFixed(2),y:(y0+i*h/nr).toFixed(2),width:(w/nc+0.6).toFixed(2),height:(h/nr+0.6).toFixed(2),fill:cmap(grid[i][j])});
        
        
      }
    }
    mk(g3,"rect",{x:x0,y:y0,width:w,height:h,fill:"none",stroke:"#333","stroke-width":0.6});
    const tt = mk(g3,"text",{x:x0+w/2,y:y0-5,"font-size":10.5,"text-anchor":"middle"},hmTitles[r][c]);
    
    
    const XT = lin(3,131,x0,x0+w);
    stackTimeTicks.forEach((t,i)=>{
      mk(g3,"line",{x1:XT(t),x2:XT(t),y1:y0+h,y2:y0+h-4,stroke:"#333","stroke-width":0.6});
      mk(g3,"text",{x:XT(t),y:y0+h+11,"font-size":8.5,"text-anchor":"middle"},stackTimeLabels[i]);
    });
    mk(g3,"text",{x:x0+w/2,y:y0+h+21,"font-size":8.5,"text-anchor":"middle"},"Time, 2016/12/06 UT");
    const YT = lin(hmYDom[r][0],hmYDom[r][1],y0+h,y0);
    hmYTicks[r].forEach(v=>{
      mk(g3,"line",{x1:x0,x2:x0+4,y1:YT(v),y2:YT(v),stroke:"#333","stroke-width":0.6});
      mk(g3,"text",{x:x0-4,y:YT(v)+3,"font-size":8.5,"text-anchor":"end"},String(v));
    });
    if (c===0){
      const cy = y0+h/2;
      const yt = mk(g3,"text",{x:3842,y:cy,"font-size":8.5,"text-anchor":"middle",transform:`rotate(-90 3842 ${cy})`},hmYTitle[r]);
      
      
    }
  }
  const y0 = hmRows[r][0], h = hmRows[r][1]-hmRows[r][0];
  const cb = mk(g3,"rect",{x:4492,y:y0,width:21,height:h,fill:"url(#inferno)",stroke:"#333","stroke-width":0.6});
  
  
  mk(g3,"text",{x:4502,y:y0-4,"font-size":13,"text-anchor":"middle"},"DN");
}
const cbLabelSets = [[cbar1Labels,[145,217,288]],[cbar2Labels,[403,446,490,533,577]],[cbar3Labels,[631,664,699,734,769,804,837]]];
cbLabelSets.forEach(([labs,ys])=>{
  labs.forEach((l,i)=>mk(g3,"text",{x:4487,y:ys[i]+3,"font-size":8.5,"text-anchor":"end"},l));
});
</script>
</body></html>
